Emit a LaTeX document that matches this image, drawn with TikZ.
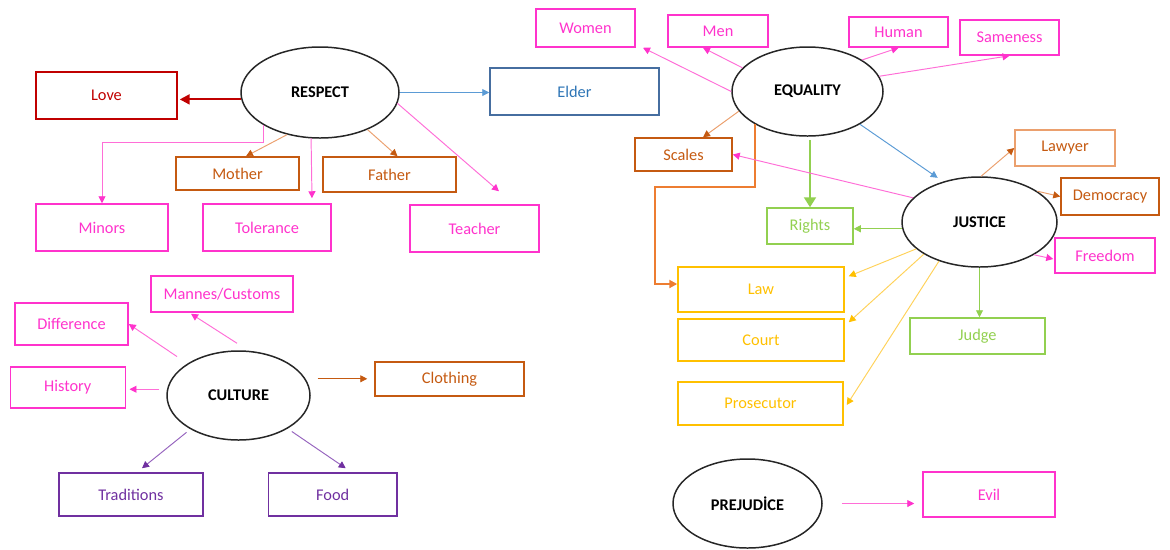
\documentclass[tikz,border=0pt]{standalone}
\usepackage{fontspec}
\setmainfont{Carlito}
\usetikzlibrary{shapes.geometric,arrows.meta,calc}
\definecolor{cpink}{RGB}{255,51,204}
\definecolor{cpinkl}{RGB}{255,110,215}
\definecolor{cred}{RGB}{192,0,0}
\definecolor{cblue}{RGB}{46,117,182}
\definecolor{cblueb}{RGB}{70,110,160}
\definecolor{cbluel}{RGB}{91,155,213}
\definecolor{corange}{RGB}{197,90,17}
\definecolor{corangel}{RGB}{235,160,110}
\definecolor{corangem}{RGB}{237,125,49}
\definecolor{cgold}{RGB}{255,192,0}
\definecolor{cgoldl}{RGB}{255,210,90}
\definecolor{cgreen}{RGB}{146,208,80}
\definecolor{cpurple}{RGB}{112,48,160}
\definecolor{cpurplel}{RGB}{150,100,190}
\tikzset{
  sz/.style 2 args={minimum width=#1*0.02cm, minimum height=#2*0.02cm},
  box/.style={draw=#1, text=#1, line width=0.85pt, inner sep=0pt, font=\fontsize{9.3}{11}\selectfont},
  concept/.style={ellipse, draw=black!85, line width=0.85pt, inner sep=0pt,
    font=\fontsize{9.3}{11}\selectfont\bfseries},
  link/.style 2 args={draw=#1, line width=0.55pt,
    -{Triangle[length=0.14cm,width=0.14cm,color=#2]}},
}
\begin{document}
\begin{tikzpicture}[x=0.02cm,y=-0.02cm]
\useasboundingbox (0,0) rectangle (1170,549);

% ---------- RESPECT ----------
\node[concept, sz={158}{91}] (resp) at (320,92.5) {RESPECT};
\node[box=cred, sz={141}{47}] (love) at (106.5,95.5) {Love};
\node[box=cblueb, text=cblue, sz={169}{47}] (elder) at (574.5,91.5) {Elder};
\node[box=cpink, sz={132}{47}] (minors) at (102,227.5) {Minors};
\node[box=corange, sz={123}{33}] (mother) at (237.5,173.5) {Mother};
\node[box=cpink, sz={128}{47}] (tol) at (267,227.5) {Tolerance};
\node[box=corange, sz={133}{35}] (father) at (389.5,174.5) {Father};
\node[box=cpink, sz={129}{47}] (teacher) at (474.5,228.5) {Teacher};

\draw[draw=cred, line width=1.2pt, -{Triangle[length=0.2cm,width=0.2cm]}, shorten >=0.04cm]
  (resp.185) -- (love.east |- resp.185);
\draw[link={cbluel}{cbluel}] (resp.east) -- (elder.west |- resp.east);
\draw[link={cpinkl}{cpink}] (resp.210.6) -- ++(0,17) -| (minors.north);
\draw[link={corangel}{corange}] (resp.232) -- ($(mother.north)+(8.5,0)$);
\draw[link={cpinkl}{cpink}] (resp.259) -- ($(tol.north)+(45,-5)$);
\draw[link={corangel}{corange}] (resp.322) -- ($(father.north)+(8,0)$);
\draw[link={cpinkl}{cpink}] (resp.-8) -- ($(teacher.north)+(24.5,-13)$);

% ---------- EQUALITY ----------
\node[concept, sz={151}{89}] (equal) at (807.5,91.5) {EQUALITY};
\node[box=cpink, sz={99}{38}] (women) at (585.5,28) {Women};
\node[box=cpink, sz={100}{32}] (men) at (718,31) {Men};
\node[box=cpink, sz={99}{30}] (human) at (898.5,32) {Human};
\node[box=cpink, sz={99}{35}] (same) at (1009.5,37.5) {Sameness};
\node[box=corange, sz={97}{33}] (scales) at (683.5,154.5) {Scales};

\draw[link={cpinkl}{cpink}] (equal.west) -- ($(women.south)+(57.5,0)$);
\draw[link={cpinkl}{cpink}] (equal.160.8) -- ($(men.south)+(-15,0)$);
\draw[link={cpinkl}{cpink}] (equal.30) -- (human.south);
\draw[link={cpinkl}{cpink}] (equal.12) -- (same.south);
\draw[link={corangel}{corange}] (equal.196.5) -- ($(scales.north)+(19.5,0)$);

% ---------- JUSTICE ----------
\node[concept, sz={155}{90}] (just) at (979.5,222) {JUSTICE};
\node[box=corange, draw=corangel, sz={100}{36}] (lawyer) at (1065,148) {Lawyer};
\node[box=corange, sz={98}{37}] (democ) at (1110,196.5) {Democracy};
\node[box=cpink, sz={100}{35}] (freedom) at (1105,255.5) {Freedom};
\node[box=cgreen, sz={86}{36}] (rights) at (810,226) {Rights};
\node[box=cgreen, sz={135}{36}] (judge) at (977.5,336) {Judge};
\node[box=cgold, sz={166}{45}] (law) at (761,289.5) {Law};
\node[box=cgold, sz={166}{42}] (court) at (761,340) {Court};
\node[box=cgold, sz={165}{43}] (pros) at (760.5,403.5) {Prosecutor};

\draw[link={cbluel}{cbluel}, shorten >=0.13cm] (equal.328.4) -- (just.132);
\draw[draw=corangem, line width=1.2pt, -{Triangle[length=0.16cm,width=0.16cm]}]
  (equal.212) -- ++(0,63) -- ++(-100,0) |- ($(law.west)+(0,-5.5)$);
\draw[draw=cgreen, line width=1.1pt, -{Triangle[length=0.2cm,width=0.24cm]}, shorten <=0.06cm]
  (rights.north |- equal.south) -- (rights.north);

\draw[link={corangel}{corange}] (just.88) -- (lawyer.west);
\draw[link={corangel}{corange}] (just.28) -- (democ.west);
\draw[link={cpinkl}{cpink}] (just.329.6) -- ($(freedom.west)+(-1,3.5)$);
\draw[link={cgreen}{cgreen}] (just.south) -- (just.south |- judge.north);
\draw[link={cgreen}{cgreen}] (just.185) -- (rights.east |- just.185);
\draw[link={cpinkl}{cpink}] (just.160) -- (scales.east);
\draw[link={cgoldl}{cgold}] (just.203) -- ($(law.north east)+(4,10)$);
\draw[link={cgoldl}{cgold}] (just.210.5) -- ($(court.north east)+(4,4)$);
\draw[link={cgoldl}{cgold}] (just.224.6) -- ($(pros.east)+(3,1.5)$);

% ---------- CULTURE ----------
\node[concept, sz={143}{89}] (cult) at (238.5,395.5) {CULTURE};
\node[box=cpink, sz={142}{36}] (mannes) at (222,294) {Mannes/Customs};
\node[box=cpink, sz={113}{42}] (diff) at (71.5,324) {Difference};
\node[box=cpink, sz={115}{41}] (hist) at (67.75,387.5) {History};
\node[box=corange, sz={149}{34}] (cloth) at (449.5,379) {Clothing};
\node[box=cpurple, sz={144}{43}] (trad) at (131,494.5) {Traditions};
\node[box=cpurple, sz={128}{43}] (food) at (332.75,494.5) {Food};

\draw[link={cpinkl}{cpink}] ($(cult.north)+(-1.5,-7)$) -- ($(mannes.south)+(-31,1)$);
\draw[link={cpinkl}{cpink}, shorten <=0.25cm] (cult.148) -- (diff.east);
\draw[link={cpinkl}{cpink}, shorten <=0.15cm, shorten >=0.07cm] (cult.175) -- (hist.east |- cult.175);
\draw[link={corange}{corange}, shorten <=0.24cm, shorten >=0.14cm] (cult.14) -- (cloth.west |- cult.14);
\draw[link={cpurplel}{cpurple}, shorten <=0.1cm] (cult.215) -- ($(trad.north)+(11,-4)$);
\draw[link={cpurplel}{cpurple}, shorten <=0.1cm] (cult.326) -- ($(food.north)+(13,-4)$);

% ---------- PREJUDICE ----------
\node[concept, sz={149}{89}] (prej) at (747.5,503.5) {PREJUDİCE};
\node[box=cpink, sz={132}{45}] (evil) at (989,494.5) {Evil};
\draw[link={cpinkl}{cpink}, shorten <=0.38cm, shorten >=0.16cm] (prej.east) -- (evil.west |- prej.east);
\end{tikzpicture}
\end{document}
